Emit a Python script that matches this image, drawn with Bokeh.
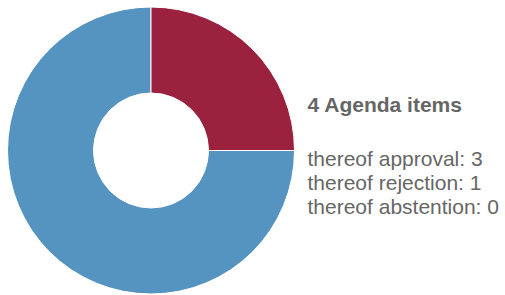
import math
from bokeh.plotting import figure
from bokeh.models import Range1d, ColumnDataSource
from bokeh.core.properties import value
from bokeh.embed import file_html
from bokeh.resources import INLINE

categories = ["approval", "rejection", "abstention"]
values = [3, 1, 0]
colors = ["#5593C1", "#9B223F", "#E8B53B"]
title_text = "4 Agenda items"
label_prefix = "thereof "

W, H = 505, 295
p = figure(width=W, height=H, output_backend="svg", toolbar_location=None,
           x_range=Range1d(0, W), y_range=Range1d(0, H), min_border=0)
p.axis.visible = False
p.grid.visible = False
p.outline_line_color = None
p.background_fill_color = "white"
p.border_fill_color = "white"

def Y(img_y):
    return H - img_y

def X(img_x):
    return img_x

total = sum(values)
cx, cy = X(150.5), Y(150)
r_out, r_in = 143.5, 57.5

starts, ends, cols = [], [], []
ang = 0.0
for v, c in zip(values, colors):
    if v <= 0:
        continue
    a = v / total * 2 * math.pi
    starts.append(ang)
    ends.append(ang - a)
    cols.append(c)
    ang -= a

src = ColumnDataSource(dict(start=starts, end=ends, color=cols))
p.annular_wedge(x=cx, y=cy, inner_radius=r_in, outer_radius=r_out,
                start_angle="start", end_angle="end", direction="clock",
                fill_color="color", line_color="white", line_width=1, source=src)

font = value("Liberation Sans")
p.text(x=[X(307)], y=[Y(103.5)], text=[title_text], text_font=font,
       text_font_size="21px", text_font_style="bold", text_color="#666666",
       text_baseline="middle", text_align="left")

lines = [f"{label_prefix}{c}: {v}" for c, v in zip(categories, values)]
ys = [Y(157.5), Y(181.5), Y(205.5)]
p.text(x=[X(307)] * 3, y=ys, text=lines, text_font=font,
       text_font_size="21px", text_color="#666666",
       text_baseline="middle", text_align="left")

open("out.html", "w").write(file_html(p, INLINE))
